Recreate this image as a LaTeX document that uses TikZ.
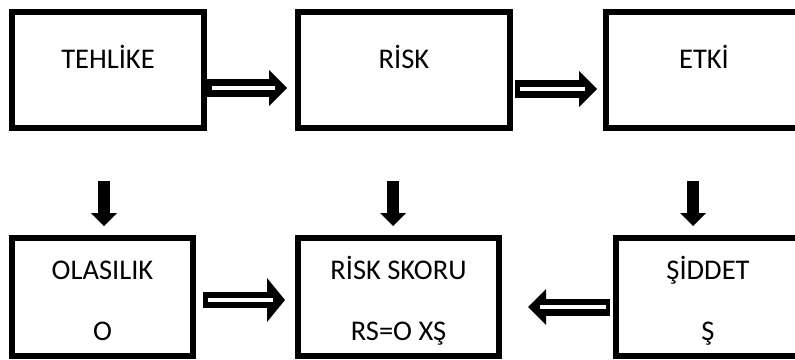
\documentclass[tikz,border=0pt]{standalone}
\usepackage{fontspec}
\setmainfont{Carlito}
\usetikzlibrary{arrows.meta}
\tikzset{
  box/.style={draw, line width=6pt, inner sep=0pt, font=\fontsize{28.5pt}{61pt}\selectfont},
  onebox/.style={box, text height=18pt, text depth=22pt, minimum height=116pt},
  twobox/.style={box, align=center, text height=86pt, text depth=0pt, minimum height=118pt},
  downarrow/.style={line width=12pt, -{Triangle[length=13pt,width=26pt,line width=0pt]}, shorten <=50pt, shorten >=9pt},
  hollow/.style={line width=18pt, -{Triangle[length=18pt,width=#1,line width=0pt]},
    postaction={draw=white, line width=3.5pt, -, shorten <=4.5pt, shorten >=12pt}},
  hollow/.default=36pt
}
\begin{document}
\begin{tikzpicture}[x=1pt,y=-1pt]
    \useasboundingbox (0,0) rectangle (795,359);
    \clip (0,0) rectangle (795,359);
    \node[onebox, minimum width=192pt] (teh) at (108,70) {TEHLİKE};
    \node[onebox, minimum width=212pt] (risk) at (404,70) {RİSK};
    \node[onebox, minimum width=196pt] (etki) at (704,70) {ETKİ};
    \node[twobox, minimum width=181pt] (olas) at (102.5,297) {OLASILIK\\O};
    \node[twobox, minimum width=201pt] (skor) at (398.5,297) {RİSK SKORU\\RS=O XŞ};
    \node[twobox, minimum width=184pt] (sidd) at (708,297) {ŞİDDET\\Ş};
    \draw[hollow] ([yshift=-18pt]teh.east) -- ([yshift=-18pt,xshift=-8pt]risk.west);
    \draw[hollow] ([yshift=-19pt,xshift=2pt]risk.east) -- ([yshift=-19pt,xshift=-6pt]etki.west);
    \draw[hollow=44pt, line width=16pt] ([yshift=-3pt,xshift=7pt]olas.east) -- ([yshift=-3pt,xshift=-10pt]skor.west);
    \draw[hollow, line width=17pt] ([yshift=-10pt,xshift=-3pt]sidd.west) -- ([yshift=-10pt,xshift=26pt]skor.east);
    \draw[downarrow] ([xshift=-4pt]teh.south) -- ([xshift=-4pt]teh.south |- olas.north);
    \draw[downarrow] ([xshift=-11pt]risk.south) -- ([xshift=-11pt]risk.south |- skor.north);
    \draw[downarrow] ([xshift=-11pt]etki.south) -- ([xshift=-11pt]etki.south |- sidd.north);
\end{tikzpicture}
\end{document}
